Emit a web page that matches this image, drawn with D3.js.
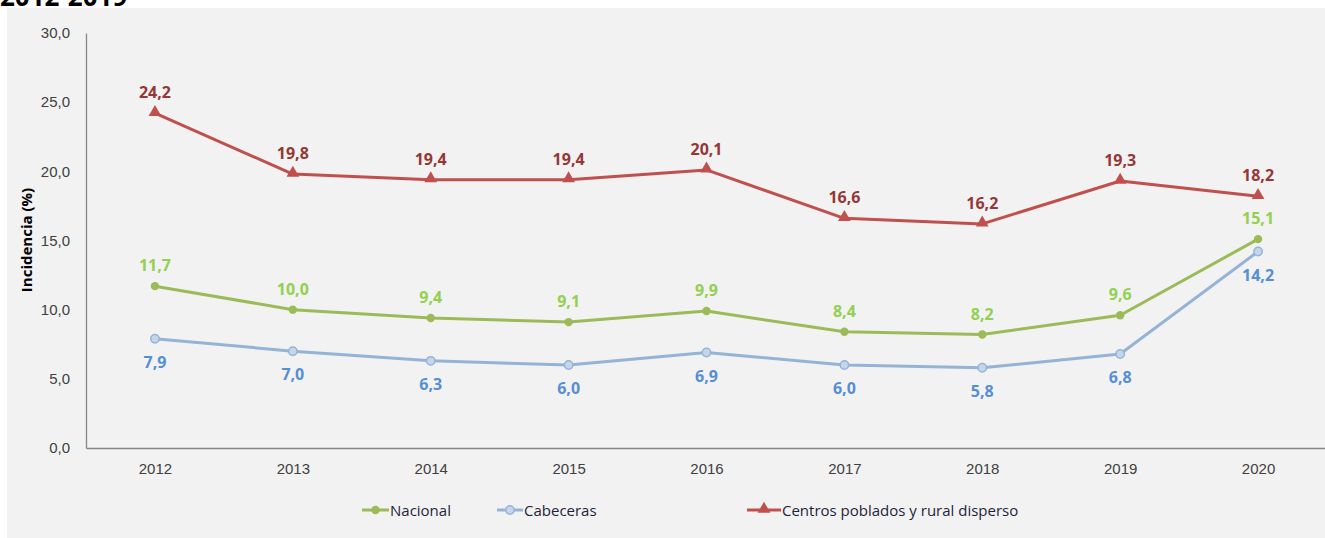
<!DOCTYPE html>
<html>
<head>
<meta charset="utf-8" />
<title>Incidencia</title>
<script src="https://cdnjs.cloudflare.com/ajax/libs/d3/7.8.5/d3.min.js"></script>
<style>
  body { margin: 0; background: #fff; }
  svg { display: block; font-family: "Open Sans", "Noto Sans", sans-serif; }
</style>
</head>
<body>
<svg width="1325" height="538"></svg>
<script>
  // data
  let years = ['2012', '2013', '2014', '2015', '2016', '2017', '2018', '2019', '2020']
  let nacional = [11.7, 10.0, 9.4, 9.1, 9.9, 8.4, 8.2, 9.6, 15.1]
  let cabeceras = [7.9, 7.0, 6.3, 6.0, 6.9, 6.0, 5.8, 6.8, 14.2]
  let centros = [24.2, 19.8, 19.4, 19.4, 20.1, 16.6, 16.2, 19.3, 18.2]
  let yTicks = [0, 5, 10, 15, 20, 25, 30]

  let series = [
    { name: 'Nacional', values: nacional, line: '#9bbb59', label: '#92d050', marker: 'circle', pos: 'above' },
    { name: 'Cabeceras', values: cabeceras, line: '#95b3d7', label: '#558ed5', marker: 'hollow', pos: 'below' },
    { name: 'Centros poblados y rural disperso', values: centros, line: '#c0504d', label: '#953735', marker: 'triangle', pos: 'above' }
  ]

  let svg = d3.select('svg')
  let fmt = v => d3.format('.1f')(v).replace('.', ',')

  // panel background
  svg.append('rect').attr('x', 7).attr('y', 8).attr('width', 1318).attr('height', 530).attr('fill', '#f2f2f2')

  // heading, cropped at the top like the source
  svg.append('text').attr('x', 0).attr('y', 6).attr('font-size', 26).attr('font-weight', 'bold')
    .attr('fill', '#000').text('2012-2019')

  let xScale = d3.scalePoint().domain(years).range([86, 1327]).padding(0.5)
  let yScale = d3.scaleLinear().domain([0, 30]).range([448, 33])

  // axes
  let yAxis = d3.axisLeft(yScale).tickValues(yTicks).tickFormat(fmt).tickSize(0).tickPadding(16)
  let gy = svg.append('g').attr('transform', 'translate(86,0)').call(yAxis)
  gy.select('.domain').attr('stroke', '#868686').attr('stroke-width', 1.3)
  gy.selectAll('text').attr('font-size', 15).attr('fill', '#404040').attr('font-family', 'inherit')

  let xAxis = d3.axisBottom(xScale).tickSize(0).tickPadding(15)
  let gx = svg.append('g').attr('transform', 'translate(0,448)').call(xAxis)
  gx.select('.domain').attr('stroke', '#868686').attr('stroke-width', 1.3)
  gx.selectAll('text').attr('font-size', 15).attr('fill', '#404040').attr('font-family', 'inherit')

  svg.append('text')
    .attr('transform', 'translate(32,240) rotate(-90)')
    .attr('text-anchor', 'middle').attr('font-size', 15).attr('font-weight', 'bold').attr('fill', '#000')
    .text('Incidencia (%)')

  let line = d3.line().x((d, i) => xScale(years[i])).y(d => yScale(d))
  let tri = d3.symbol().type(d3.symbolTriangle).size(70)

  function drawMarker(g, s, x, y) {
    if (s.marker === 'triangle') {
      g.append('path').attr('d', tri()).attr('transform', `translate(${x},${y - 1})`).attr('fill', s.line)
    } else if (s.marker === 'hollow') {
      g.append('circle').attr('cx', x).attr('cy', y).attr('r', 4.2)
        .attr('fill', '#c6d6ea').attr('stroke', s.line).attr('stroke-width', 1.5)
    } else {
      g.append('circle').attr('cx', x).attr('cy', y).attr('r', 4.2).attr('fill', s.line)
    }
  }

  series.forEach(s => {
    let g = svg.append('g')
    g.append('path').attr('d', line(s.values)).attr('fill', 'none')
      .attr('stroke', s.line).attr('stroke-width', 3).attr('stroke-linejoin', 'round')
    s.values.forEach((v, i) => {
      let x = xScale(years[i]), y = yScale(v)
      drawMarker(g, s, x, y)
      g.append('text').attr('x', x).attr('y', s.pos === 'above' ? y - 15 : y + 29)
        .attr('text-anchor', 'middle').attr('font-size', 16).attr('font-weight', 'bold')
        .attr('fill', s.label).text(fmt(v))
    })
  })

  // legend
  let legendX = [362, 497, 747]
  let legendW = [27, 26, 34]
  series.forEach((s, i) => {
    let g = svg.append('g').attr('transform', `translate(${legendX[i]},510)`)
    g.append('line').attr('x1', 0).attr('x2', legendW[i]).attr('stroke', s.line).attr('stroke-width', 3)
    drawMarker(g, s, legendW[i] / 2, 0)
    g.append('text').attr('x', legendW[i] + 1).attr('y', 5.5).attr('font-size', 15)
      .attr('fill', '#1f1f3a').text(s.name)
  })
</script>
</body>
</html>
